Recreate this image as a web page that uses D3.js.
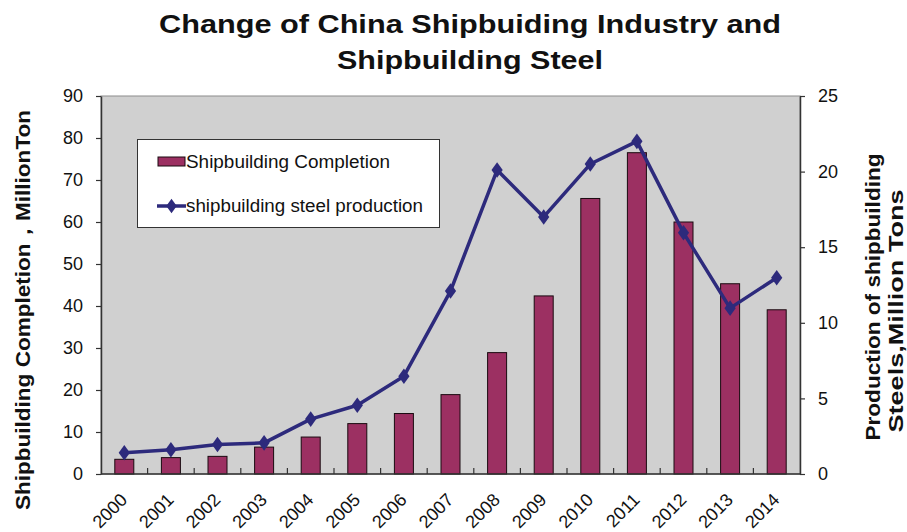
<!DOCTYPE html>
<html>
<head>
<meta charset="utf-8">
<script src="https://cdn.jsdelivr.net/npm/d3@7"></script>
<style>
  body { margin: 0; background: #fff; }
  svg { display: block; font-family: "Liberation Sans", Arial, sans-serif; }
</style>
</head>
<body>
<svg id="chart" width="907" height="532"></svg>
<script>
// Shipbuilding completions (left axis) and shipbuilding steel output (right axis)
const years = ["2000","2001","2002","2003","2004","2005","2006","2007","2008","2009","2010","2011","2012","2013","2014"];
const completion = [3.5, 3.9, 4.2, 6.4, 8.8, 12.0, 14.4, 18.9, 28.9, 42.4, 65.6, 76.5, 60.0, 45.3, 39.1];
const steel = [1.4, 1.6, 1.95, 2.06, 3.63, 4.55, 6.47, 12.1, 20.1, 17.0, 20.5, 22.0, 15.95, 10.97, 12.98];
const leftTicks = [0, 10, 20, 30, 40, 50, 60, 70, 80, 90];
const rightTicks = [0, 5, 10, 15, 20, 25];

const svg = d3.select("#chart");
const m = { left: 101, right: 800, top: 96, bottom: 474 };

const xb = d3.scaleBand().domain(years).range([m.left, m.right]);
const yL = d3.scaleLinear().domain([0, 90]).range([m.bottom, m.top]);
const yR = d3.scaleLinear().domain([0, 25]).range([m.bottom, m.top]);
const cx = (d) => xb(d) + xb.bandwidth() / 2;

// plot background
svg.append("rect")
  .attr("x", m.left).attr("y", m.top)
  .attr("width", m.right - m.left).attr("height", m.bottom - m.top)
  .attr("fill", "#d0d0d0").attr("stroke", "#8c8c8c").attr("stroke-width", 1);

// bars
svg.append("g").selectAll("rect").data(years).join("rect")
  .attr("x", (d) => cx(d) - 9.5)
  .attr("width", 19)
  .attr("y", (d, i) => yL(completion[i]))
  .attr("height", (d, i) => yL(0) - yL(completion[i]))
  .attr("fill", "#9c3062").attr("stroke", "#1a0a10").attr("stroke-width", 1);

// steel production line
const line = d3.line()
  .x((d, i) => cx(years[i]))
  .y((d) => yR(d));
svg.append("path").datum(steel)
  .attr("d", line).attr("fill", "none")
  .attr("stroke", "#2d2a7c").attr("stroke-width", 3.5).attr("stroke-linejoin", "round");
svg.append("g").selectAll("path").data(steel).join("path")
  .attr("d", d3.symbol(d3.symbolDiamond, 70))
  .attr("transform", (d, i) => `translate(${cx(years[i])},${yR(d)}) scale(1.25,1)`)
  .attr("fill", "#2d2a7c");

// axes
const axisStyle = (g) => {
  g.select(".domain").attr("stroke", "#333").attr("stroke-width", 1.5);
  g.selectAll(".tick line").attr("stroke", "#333").attr("stroke-width", 1.2);
  g.selectAll(".tick text").attr("fill", "#111").style("font-size", "18px")
    .style("font-family", "'Liberation Sans', Arial, sans-serif");
};

svg.append("g").attr("transform", `translate(${m.left},0)`)
  .call(d3.axisLeft(yL).tickValues(leftTicks).tickSize(5).tickPadding(13).tickSizeOuter(0))
  .call(axisStyle);

svg.append("g").attr("transform", `translate(${m.right},0)`)
  .call(d3.axisRight(yR).tickValues(rightTicks).tickSize(5).tickPadding(13).tickSizeOuter(0))
  .call(axisStyle);

// category boundary ticks pointing into the plot
const xAxis = svg.append("g").attr("transform", `translate(0,${m.bottom})`);
xAxis.append("line").attr("x1", m.left).attr("x2", m.right)
  .attr("stroke", "#333").attr("stroke-width", 1.5);
xAxis.selectAll("line.b").data(years.slice(1)).join("line").attr("class", "b")
  .attr("x1", (d) => xb(d)).attr("x2", (d) => xb(d))
  .attr("y1", 0).attr("y2", -6).attr("stroke", "#333").attr("stroke-width", 1.2);
xAxis.selectAll("text").data(years).join("text")
  .attr("transform", (d) => `translate(${cx(d) + 4},${27}) rotate(-45)`)
  .attr("text-anchor", "end")
  .style("font-size", "18px").attr("fill", "#111")
  .text((d) => d);

// title
const title = svg.append("g").attr("font-weight", "bold").attr("fill", "#111")
  .style("font-size", "26px").attr("text-anchor", "middle");
title.append("text").attr("x", 470).attr("y", 33)
  .attr("textLength", 622).attr("lengthAdjust", "spacingAndGlyphs")
  .text("Change of China Shipbuiding Industry and");
title.append("text").attr("x", 470).attr("y", 69)
  .attr("textLength", 266).attr("lengthAdjust", "spacingAndGlyphs")
  .text("Shipbuilding Steel");

// axis titles
svg.append("text")
  .attr("transform", "translate(30,310) rotate(-90)")
  .attr("text-anchor", "middle").attr("font-weight", "bold").style("font-size", "20px").attr("fill", "#111")
  .attr("textLength", 400).attr("lengthAdjust", "spacingAndGlyphs")
  .text("Shipbuilding Completion，MillionTon");

const rt = svg.append("g").attr("transform", "translate(0,297)")
  .attr("font-weight", "bold").style("font-size", "20px").attr("fill", "#111").attr("text-anchor", "middle");
rt.append("text").attr("transform", "translate(880,0) rotate(-90)")
  .attr("textLength", 287).attr("lengthAdjust", "spacingAndGlyphs")
  .text("Production of shipbuilding");
rt.append("text").attr("transform", "translate(903,14) rotate(-90)")
  .attr("textLength", 243).attr("lengthAdjust", "spacingAndGlyphs")
  .text("Steels,Million  Tons");

// legend
const lg = svg.append("g");
lg.append("rect").attr("x", 137.5).attr("y", 139.5).attr("width", 302).attr("height", 88)
  .attr("fill", "#fff").attr("stroke", "#333").attr("stroke-width", 1);
lg.append("rect").attr("x", 158).attr("y", 157).attr("width", 27).attr("height", 9)
  .attr("fill", "#9c3062").attr("stroke", "#1a0a10");
lg.append("text").attr("x", 186).attr("y", 168).style("font-size", "18px").attr("fill", "#111")
  .attr("textLength", 204).attr("lengthAdjust", "spacingAndGlyphs")
  .text("Shipbuilding Completion");
lg.append("line").attr("x1", 157).attr("x2", 186).attr("y1", 206).attr("y2", 206)
  .attr("stroke", "#2d2a7c").attr("stroke-width", 3.5);
lg.append("path").attr("d", d3.symbol(d3.symbolDiamond, 60))
  .attr("transform", "translate(171.5,206) scale(1.25,1)").attr("fill", "#2d2a7c");
lg.append("text").attr("x", 186).attr("y", 212).style("font-size", "18px").attr("fill", "#111")
  .attr("textLength", 237).attr("lengthAdjust", "spacingAndGlyphs")
  .text("shipbuilding steel production");
</script>
</body>
</html>
